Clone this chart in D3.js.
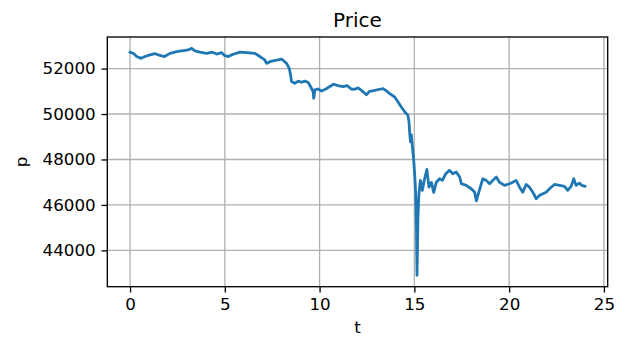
<!DOCTYPE html>
<html>
<head>
<meta charset="utf-8">
<script src="https://cdn.jsdelivr.net/npm/d3@7"></script>
<style>
  body { margin: 0; background: #fff; }
  text { font-family: "DejaVu Sans", sans-serif; fill: #000; }
</style>
</head>
<body>
<script>
// time (t) and price (p)
var times = [0, 0.17, 0.35, 0.58, 0.79, 1.05, 1.32, 1.49, 1.81, 2.11, 2.46, 2.81, 3.07, 3.25, 3.42, 3.69,
  4.04, 4.34, 4.57, 4.83, 5.00, 5.18, 5.44, 5.80, 6.15, 6.59, 6.85, 7.11, 7.20, 7.47, 7.81, 7.99,
  8.26, 8.40, 8.47, 8.52, 8.69, 8.87, 9.05, 9.22, 9.39, 9.52, 9.66, 9.69, 9.75, 9.92, 10.10, 10.33,
  10.54, 10.75, 10.97, 11.24, 11.45, 11.68, 11.85, 12.03, 12.21, 12.47, 12.64, 12.91, 13.17, 13.35,
  13.49, 13.70, 13.96, 14.14, 14.31, 14.49, 14.66, 14.72, 14.75, 14.80, 14.84, 14.89, 14.96, 15.02,
  15.07, 15.11, 15.14, 15.19, 15.24, 15.32, 15.42, 15.49, 15.54, 15.66, 15.77, 15.90, 16.02, 16.16,
  16.33, 16.48, 16.65, 16.86, 17.03, 17.21, 17.39, 17.48, 17.74, 18.00, 18.18, 18.27, 18.40, 18.61,
  18.79, 18.97, 19.14, 19.32, 19.49, 19.76, 20.02, 20.19, 20.37, 20.55, 20.72, 20.90, 21.07, 21.25,
  21.43, 21.60, 21.78, 21.95, 22.13, 22.39, 22.66, 22.92, 23.09, 23.27, 23.41, 23.53, 23.71, 23.83, 24.00];

var prices = [52720, 52670, 52530, 52450, 52530, 52600, 52660, 52600, 52530, 52670, 52750, 52790, 52820, 52890, 52780, 52720,
  52670, 52720, 52640, 52700, 52570, 52530, 52630, 52720, 52700, 52670, 52530, 52380, 52230, 52330, 52380, 52420,
  52230, 52010, 51720, 51430, 51350, 51450, 51400, 51450, 51400, 51210, 50990, 50690, 51060, 51100, 51010, 51100,
  51210, 51310, 51250, 51210, 51250, 51100, 51090, 51150, 51040, 50850, 51000, 51040, 51090, 51120,
  51040, 50900, 50750, 50530, 50310, 50100, 49940, 49650, 49190, 48770, 49090, 48620, 48040, 47300,
  46490, 45020, 42900, 45460, 46490, 47080, 46640, 46930, 47150, 47560, 46780, 46990, 46550, 47000,
  47150, 47080, 47370, 47520, 47370, 47450, 47230, 46930, 46860, 46710, 46560, 46180, 46560, 47150,
  47080, 46930, 47080, 47230, 47000, 46860, 46930, 47000, 47080, 46780, 46560, 46900, 46780, 46560,
  46270, 46420, 46490, 46560, 46710, 46900, 46860, 46820, 46640, 46820, 47150, 46860, 46960, 46860, 46820];

var xticks = [0, 5, 10, 15, 20, 25];
var yticks = [44000, 46000, 48000, 50000, 52000];

var width = 625, height = 337;
var padding = { left: 107.3, right: 17.3, up: 37, down: 50.3 };
var blue = "#1f77b4";

var svg = d3.select("body").append("svg")
    .attr("width", width).attr("height", height);

// matplotlib style 5% margins round the data
var tmin = d3.min(times), tmax = d3.max(times);
var pmin = d3.min(prices), pmax = d3.max(prices);
var tpad = (tmax - tmin) * 0.05, ppad = (pmax - pmin) * 0.05;

var xscale = d3.scaleLinear()
    .domain([tmin - tpad, tmax + tpad])
    .range([padding.left, width - padding.right]);
var yscale = d3.scaleLinear()
    .domain([pmin - ppad, pmax + ppad])
    .range([height - padding.down, padding.up]);

// grid
svg.append("g").selectAll("line").data(xticks).enter().append("line")
    .attr("x1", function(d) { return xscale(d); })
    .attr("x2", function(d) { return xscale(d); })
    .attr("y1", padding.up).attr("y2", height - padding.down)
    .attr("stroke", "#b0b0b0").attr("stroke-width", 1.33);
svg.append("g").selectAll("line").data(yticks).enter().append("line")
    .attr("y1", function(d) { return yscale(d); })
    .attr("y2", function(d) { return yscale(d); })
    .attr("x1", padding.left).attr("x2", width - padding.right)
    .attr("stroke", "#b0b0b0").attr("stroke-width", 1.33);

// the price line
var line = d3.line()
    .x(function(d, i) { return xscale(times[i]); })
    .y(function(d) { return yscale(d); });

svg.append("path")
    .datum(prices)
    .attr("d", line)
    .attr("fill", "none")
    .attr("stroke", blue)
    .attr("stroke-width", 2.8)
    .attr("stroke-linejoin", "round")
    .attr("stroke-linecap", "square");

// axes
var xaxis = d3.axisBottom(xscale).tickValues(xticks).tickSize(5.8).tickPadding(5.8)
    .tickFormat(d3.format("d"));
var yaxis = d3.axisLeft(yscale).tickValues(yticks).tickSize(5.8).tickPadding(5.8)
    .tickFormat(d3.format("d"));

var gx = svg.append("g")
    .attr("transform", "translate(0," + (height - padding.down) + ")")
    .call(xaxis);
var gy = svg.append("g")
    .attr("transform", "translate(" + padding.left + ",0)")
    .call(yaxis);

[gx, gy].forEach(function(g) {
  g.select(".domain").remove();
  g.selectAll(".tick line").attr("stroke", "#000").attr("stroke-width", 1.33);
  g.selectAll(".tick text").attr("font-size", "16.7px")
    .attr("font-family", "DejaVu Sans").attr("fill", "#000");
});
gx.selectAll(".tick text").attr("dy", "0.71em");

// frame
svg.append("rect")
    .attr("x", padding.left).attr("y", padding.up)
    .attr("width", width - padding.left - padding.right)
    .attr("height", height - padding.up - padding.down)
    .attr("fill", "none").attr("stroke", "#000").attr("stroke-width", 1.33);

// title and labels
svg.append("text")
    .attr("x", (padding.left + width - padding.right) / 2)
    .attr("y", 27)
    .attr("text-anchor", "middle")
    .attr("font-size", "20px")
    .text("Price");

svg.append("text")
    .attr("x", (padding.left + width - padding.right) / 2)
    .attr("y", 333)
    .attr("text-anchor", "middle")
    .attr("font-size", "16.7px")
    .text("t");

svg.append("text")
    .attr("transform", "translate(27," + ((padding.up + height - padding.down) / 2) + ") rotate(-90)")
    .attr("text-anchor", "middle")
    .attr("font-size", "16.7px")
    .text("p");
</script>
</body>
</html>
